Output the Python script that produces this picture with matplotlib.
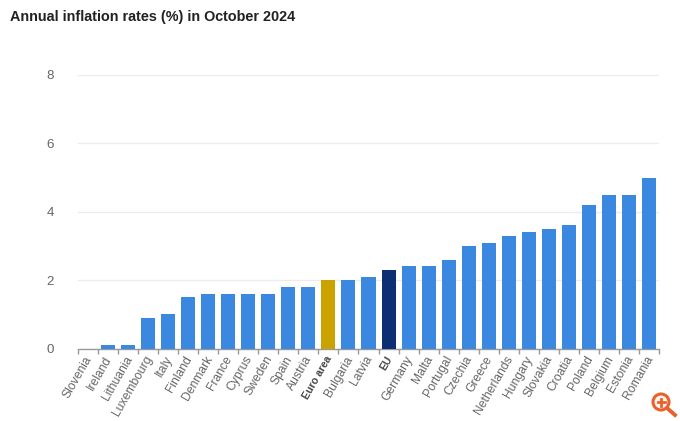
#-*- coding : utf-8 *-*
import matplotlib
matplotlib.use("Agg")
import matplotlib.pyplot as plt
from matplotlib.patches import Circle
from matplotlib.lines import Line2D

plt.rcParams['font.family'] = ['Liberation Sans', 'DejaVu Sans']

# Pays, du plus faible au plus fort
countries = ["Slovenia", "Ireland", "Lithuania", "Luxembourg", "Italy", "Finland",
             "Denmark", "France", "Cyprus", "Sweden", "Spain", "Austria", "Euro area",
             "Bulgaria", "Latvia", "EU", "Germany", "Malta", "Portugal", "Czechia",
             "Greece", "Netherlands", "Hungary", "Slovakia", "Croatia", "Poland",
             "Belgium", "Estonia", "Romania"]
rates = [0.0, 0.1, 0.1, 0.9, 1.0, 1.5, 1.6, 1.6, 1.6, 1.6, 1.8, 1.8, 2.0, 2.0, 2.1,
         2.3, 2.4, 2.4, 2.6, 3.0, 3.1, 3.3, 3.4, 3.5, 3.6, 4.2, 4.5, 4.5, 5.0]
yticks = [0, 2, 4, 6, 8]

W, H = 680, 421
BLUE = "#3a88e0"
colors = {"Euro area": "#cba300", "EU": "#0c2f73"}
bar_colors = [colors.get(c, BLUE) for c in countries]

fig = plt.figure(figsize=(W/100, H/100), dpi=100, facecolor="white")
ax = fig.add_axes([78/W, 1-348.5/H, 581/W, 273.5/H])

x = list(range(len(countries)))
ax.bar(x, rates, width=0.7, color=bar_colors, zorder=3)
ax.set_xlim(-0.5, len(countries)-0.5)
ax.set_ylim(0, 8)

ax.set_yticks(yticks)
ax.tick_params(axis='y', length=0, pad=17.5, labelsize=9.6, labelcolor="#666666")
ax.grid(True, axis='y', color="#ececec", linewidth=1, zorder=0)
ax.set_axisbelow(True)

# Les graduations sont entre les barres
ax.set_xticks([i-0.5 for i in range(len(countries)+1)])
ax.set_xticklabels([])
ax.tick_params(axis='x', length=3.5, width=1, color="#999999")

for i, name in enumerate(countries):
    bold = name in colors
    ax.annotate(name, xy=(i, 0), xycoords=('data', 'axes fraction'),
                xytext=(1, -6), textcoords='offset points',
                rotation=60, rotation_mode='anchor', ha='right', va='center',
                fontsize=7.6 if bold else 8.7,
                fontweight='bold' if bold else 'normal',
                color="#444444" if bold else "#666666")

for side in ['top', 'right', 'left']:
    ax.spines[side].set_visible(False)
ax.spines['bottom'].set_color("#999999")
ax.spines['bottom'].set_linewidth(1)

fig.text(10/W, 1-16.5/H, "Annual inflation rates (%) in October 2024",
         fontsize=10.35, fontweight='bold', color="#222222", ha='left', va='center')

# Icone loupe en bas a droite
orange = "#e8622c"
icon = fig.add_axes([0, 0, 1, 1], facecolor='none')
icon.set_xlim(0, W)
icon.set_ylim(H, 0)
icon.axis('off')
icon.add_patch(Circle((661, 402), 8, facecolor='#fff4ef', edgecolor=orange, linewidth=2.2))
icon.add_line(Line2D([667, 675], [408, 415], color=orange, linewidth=2.8))
icon.add_line(Line2D([657.5, 664.5], [402, 402], color=orange, linewidth=2))
icon.add_line(Line2D([661, 661], [398.5, 405.5], color=orange, linewidth=2))

fig.savefig("out.png", dpi=100)
